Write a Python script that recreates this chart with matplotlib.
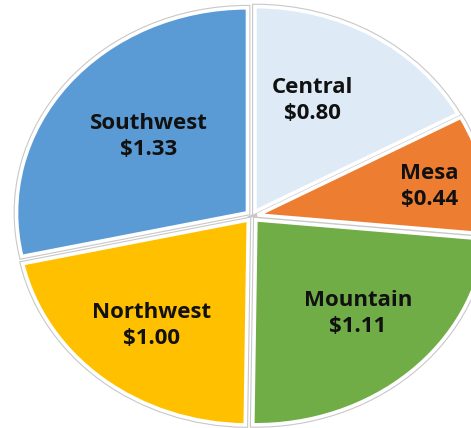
import numpy as np
import matplotlib
matplotlib.use("Agg")
import matplotlib.pyplot as plt

# Data
regions = ["Central", "Mesa", "Mountain", "Northwest", "Southwest"]
values = [0.80, 0.44, 1.11, 1.00, 1.33]
value_labels = ["$0.80", "$0.44", "$1.11", "$1.00", "$1.33"]

# Style
colors = ["#DEEBF7", "#ED7D31", "#70AD47", "#FFC000", "#5B9BD5"]
label_r = [0.62, 0.78, 0.66, 0.69, 0.59]
label_dtheta = [6, -1, 2, 0, -2]
explode = [0.025] * len(values)

W, H = 471, 428
fig = plt.figure(figsize=(W / 100, H / 100), dpi=100)
ax = fig.add_axes([0, 0, 1, 1])

# pie centre and radii in pixels (ellipse: stretched horizontally)
cx, cy = 252, 216
rx, ry = 231, 205

# gray outline underlay
ax.pie(values, colors=colors, startangle=90, counterclock=False,
       explode=explode, wedgeprops=dict(edgecolor="#c8c8c8", linewidth=4.2))
wedges, _ = ax.pie(values, colors=colors, startangle=90, counterclock=False,
                   explode=explode, wedgeprops=dict(edgecolor="white", linewidth=2.6))

ax.set_aspect("auto")
ax.set_xlim(-cx / rx, (W - cx) / rx)
ax.set_ylim(-(H - cy) / ry, cy / ry)
ax.axis("off")

for w, name, val, r, dt in zip(wedges, regions, value_labels, label_r, label_dtheta):
    mid = np.deg2rad((w.theta1 + w.theta2) / 2 + dt)
    x = r * np.cos(mid)
    y = r * np.sin(mid)
    ax.text(x, y, f"{name}\n{val}", ha="center", va="center",
            fontsize=16, fontweight="bold", family="Open Sans", color="#111111",
            linespacing=1.32, parse_math=False)

fig.savefig("out.png", dpi=100)
